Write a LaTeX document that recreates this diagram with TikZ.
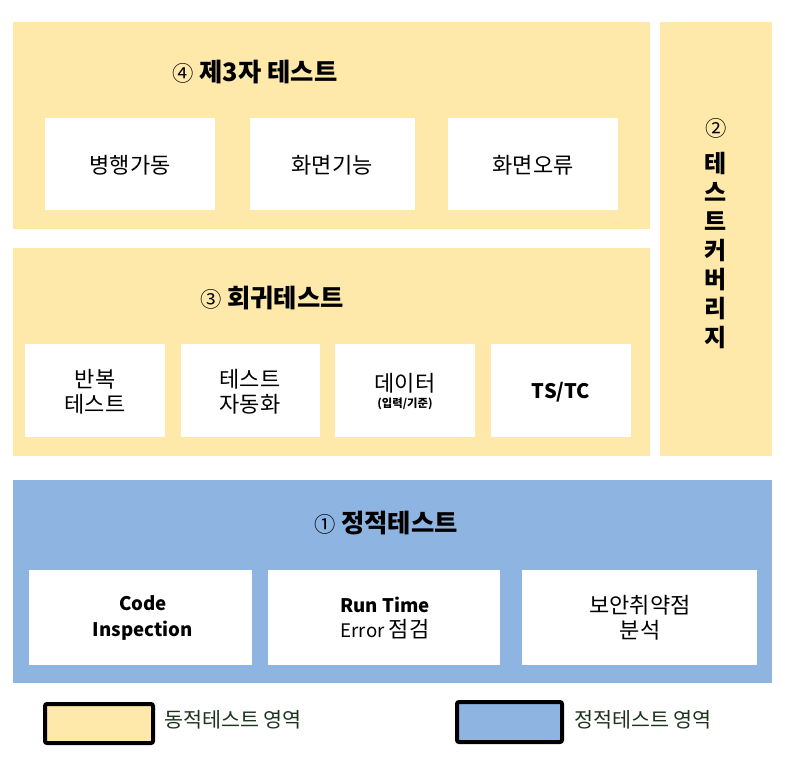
\documentclass[tikz,border=0pt]{standalone}
\usepackage{fontspec}
\setmainfont{Noto Sans CJK KR}
\usepackage{tikz}
\usetikzlibrary{calc}
\definecolor{dynyellow}{RGB}{255,233,170}
\definecolor{statblue}{RGB}{142,180,226}
\definecolor{legtext}{RGB}{28,52,28}

\begin{document}
\begin{tikzpicture}[x=0.75pt,y=0.75pt,yscale=-1,xscale=1,
    itembox/.style={fill=white,draw=none},
    itemtext/.style={inner sep=0.75pt,align=center,font=\fontsize{16.5}{19}\selectfont},
    titletext/.style={inner sep=0.75pt,font=\fontsize{19}{22}\selectfont\bfseries},
    legendbox/.style={line width=3pt,rounded corners=1.5pt}]
        \path[use as bounding box] (0,0) rectangle (788,770);

        %Shape: Rectangle [id:r4]
        \draw [fill=dynyellow,draw=none] (13,22) rectangle (650,229) ;
        %Shape: Rectangle [id:r2]
        \draw [fill=dynyellow,draw=none] (660,22) rectangle (772,456) ;
        %Shape: Rectangle [id:r3]
        \draw [fill=dynyellow,draw=none] (13,248) rectangle (650,456) ;
        %Shape: Rectangle [id:r1]
        \draw [fill=statblue,draw=none] (13,480) rectangle (772,683) ;

        %Shape: Rectangle (row 4)
        \draw [itembox] (45,118) rectangle (215,210) ;
        \draw [itembox] (250,118) rectangle (415,210) ;
        \draw [itembox] (448,118) rectangle (618,210) ;
        %Shape: Rectangle (row 3)
        \draw [itembox] (25,344) rectangle (165,437) ;
        \draw [itembox] (181,344) rectangle (320,437) ;
        \draw [itembox] (335,344) rectangle (475,437) ;
        \draw [itembox] (491,344) rectangle (631,437) ;
        %Shape: Rectangle (row 1)
        \draw [itembox] (29,570) rectangle (252,665) ;
        \draw [itembox] (268,570) rectangle (500,665) ;
        \draw [itembox] (522,570) rectangle (757,665) ;

        %Shape: Rectangle (legend)
        \draw [legendbox,fill=dynyellow] (45,704) rectangle (153,743) ;
        \draw [legendbox,fill=statblue] (457,702) rectangle (562,742) ;

        % Text Node
        \draw (255,72) node (t4) [titletext] {{\mdseries\fontsize{16}{20}\selectfont ④} 제3자 테스트};
        % Text Node
        \draw (272,298) node (t3) [titletext] {{\mdseries\fontsize{16}{20}\selectfont ③} 회귀테스트};
        % Text Node
        \draw (386,523) node (t1) [titletext] {{\mdseries\fontsize{16}{20}\selectfont ①} 정적테스트};
        % Text Node
        \draw (716,128) node (t2) [inner sep=0.75pt,font=\fontsize{16}{20}\selectfont] {②};
        % Text Node
        \draw (716,151) node (t2v) [anchor=north,inner sep=0.75pt,align=center,font=\fontsize{18}{21.75}\selectfont\bfseries] {테\\스\\트\\커\\버\\리\\지};

        % Text Node
        \draw (130,165) node (par) [itemtext] {병행가동};
        % Text Node
        \draw (332,165) node (scrf) [itemtext] {화면기능};
        % Text Node
        \draw (533,165) node (scre) [itemtext] {화면오류};

        % Text Node
        \draw (95,392) node (rep) [itemtext] {반복\\테스트};
        % Text Node
        \draw (250,392) node (auto) [itemtext] {테스트\\자동화};
        % Text Node
        \draw (405,383) node (data) [itemtext] {데이터};
        % Text Node
        \draw (405,404) node (datasub) [inner sep=0.75pt,font=\fontsize{8.5}{10}\selectfont\bfseries] {(입력/기준)};
        % Text Node
        \draw (561,392) node (tstc) [itemtext,font=\fontsize{15}{19}\selectfont\bfseries] {TS/TC};

        % Text Node
        \draw (143,618) node (code) [itemtext,font=\fontsize{14}{19}\selectfont\bfseries] {Code\\Inspection};
        % Text Node
        \draw (385,618) node (run) [itemtext,font=\fontsize{14}{19}\selectfont] {\textbf{Run Time}\\Error {\fontsize{16.5}{19}\selectfont 점검}};
        % Text Node
        \draw (640,618) node (sec) [itemtext] {보안취약점\\분석};

        % Text Node
        \draw (163,720) node (dynleg) [anchor=west,inner sep=0.75pt,text=legtext,font=\fontsize{15.5}{18}\selectfont] {동적테스트 영역};
        % Text Node
        \draw (573,720) node (statleg) [anchor=west,inner sep=0.75pt,text=legtext,font=\fontsize{15.5}{18}\selectfont] {정적테스트 영역};

\end{tikzpicture}
\end{document}
